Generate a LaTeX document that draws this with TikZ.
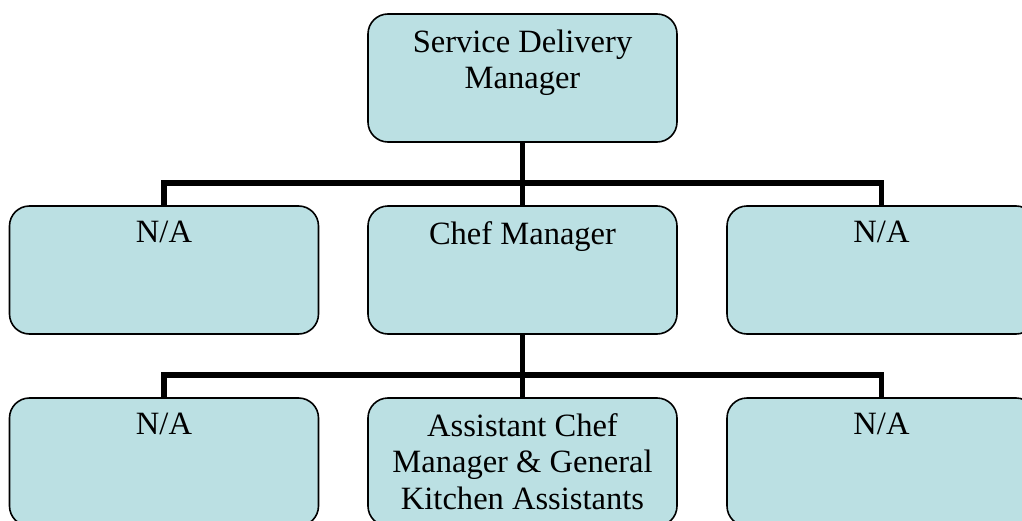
\documentclass[tikz,border=0pt]{standalone}
\usepackage{fontspec}
\setmainfont{Liberation Serif}
\definecolor{boxfill}{RGB}{187,224,227}
\begin{document}
\begin{tikzpicture}[x=0.75pt,y=-0.75pt,
    post/.style={draw,fill=boxfill,line width=1.2pt,rounded corners=15pt,
        minimum width=231.75pt,minimum height=96pt,inner sep=0pt},
    title/.style={anchor=north,inner sep=0pt,align=center,
        font=\fontsize{24.4}{27.4}\selectfont},
    link/.style={line width=3.8pt}]
    \clip (0,0) rectangle (1022,521);
    \node[post] (sdm) at (522.5,78) {};
    \node[post] (na1) at (164,270) {};
    \node[post] (chef) at (522.5,270) {};
    \node[post] (na2) at (881.5,270) {};
    \node[post] (na3) at (164,462) {};
    \node[post] (acm) at (522.5,462) {};
    \node[post] (na4) at (881.5,462) {};
    \node[title] (sdm-t) at ([yshift=-12pt]sdm.north) {Service Delivery\\Manager};
    \node[title] (na1-t) at ([yshift=-12pt]na1.north) {N/A};
    \node[title] (chef-t) at ([yshift=-12pt]chef.north) {Chef Manager};
    \node[title] (na2-t) at ([yshift=-12pt]na2.north) {N/A};
    \node[title] (na3-t) at ([yshift=-12pt]na3.north) {N/A};
    \node[title] (acm-t) at ([yshift=-12pt]acm.north) {Assistant Chef\\Manager \& General\\Kitchen Assistants};
    \node[title] (na4-t) at ([yshift=-12pt]na4.north) {N/A};
    \coordinate (j1) at (522.5,183);
    \coordinate (j2) at (522.5,375);
    \draw[link] (sdm.south) -- (j1);
    \draw[link] (na1.north) |- (j1);
    \draw[link] (na2.north) |- (j1);
    \draw[link] (chef.north) -- (j1);
    \draw[link] (chef.south) -- (j2);
    \draw[link] (na3.north) |- (j2);
    \draw[link] (na4.north) |- (j2);
    \draw[link] (acm.north) -- (j2);
\end{tikzpicture}
\end{document}
